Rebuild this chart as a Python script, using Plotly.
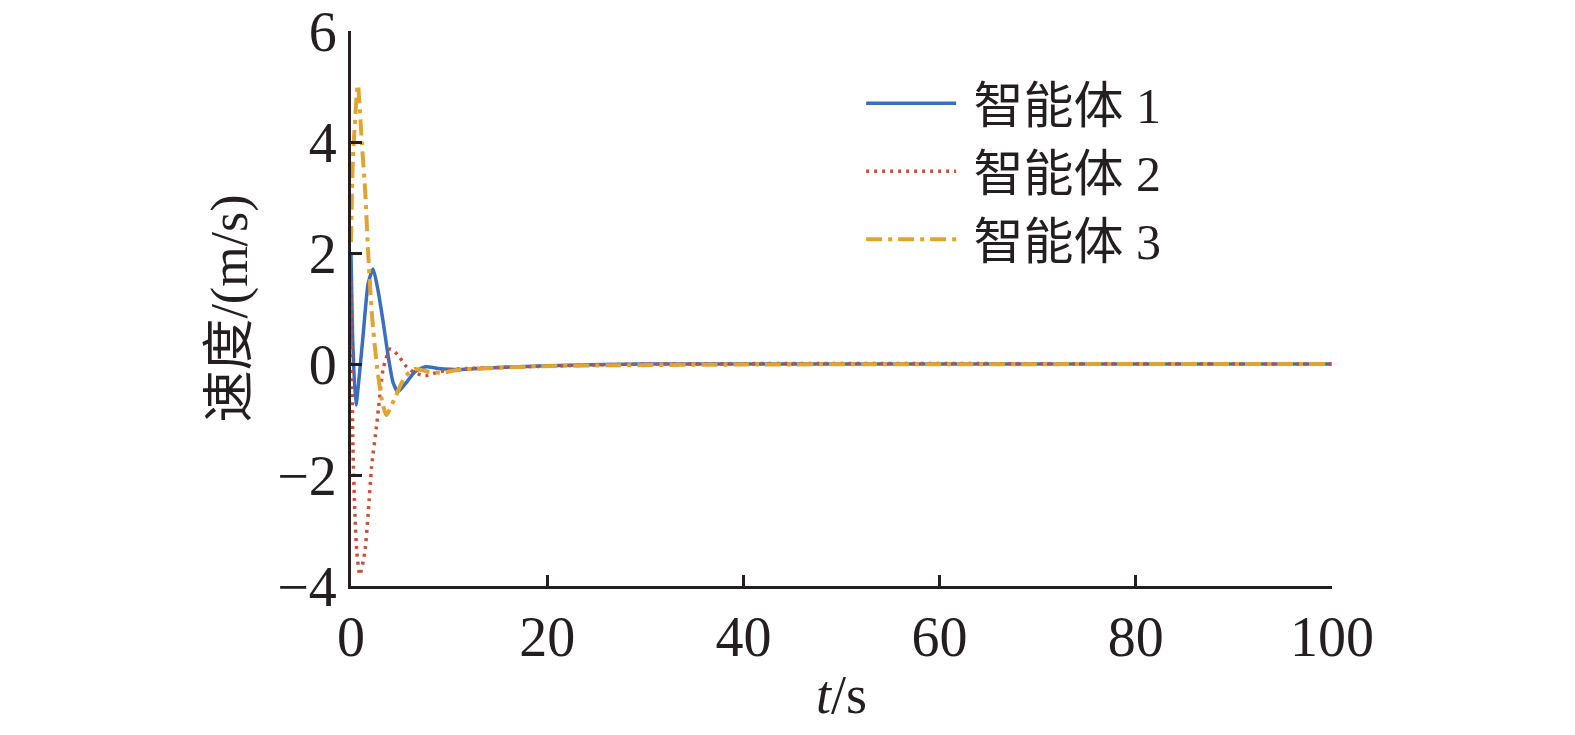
import plotly.graph_objects as go

# agent 1 (solid blue)
t1 = [0, 0.2, 0.5, 0.85, 1.25, 1.75, 2.25, 2.75, 3.3, 3.8, 4.3, 4.8, 5.7, 6.5, 7.6, 8.9, 11, 14, 20, 30, 100]
v1 = [2.0, 0.3, -0.74, -0.2, 0.55, 1.45, 1.71, 1.33, 0.73, 0.13, -0.34, -0.5, -0.32, -0.14, -0.05, -0.08, -0.1, -0.07, -0.03, 0, 0]

# agent 2 (dotted red)
t2 = [0, 0.2, 0.4, 0.6, 0.9, 1.4, 1.75, 2.1, 2.65, 3.3, 4.0, 4.8, 5.5, 6.5, 7.6, 8.6, 9.8, 12, 20, 30, 100]
v2 = [1.48, -1.5, -2.7, -3.4, -3.8, -3.4, -2.7, -1.85, -1.05, -0.07, 0.27, 0.16, -0.02, -0.16, -0.21, -0.16, -0.11, -0.08, -0.04, 0, 0]

# agent 3 (dash-dot yellow)
t3 = [0, 0.2, 0.7, 1.1, 1.45, 1.75, 2.15, 2.65, 3.15, 3.6, 4.5, 5.5, 6.5, 7.9, 9.3, 10.8, 19.3, 40, 100]
v3 = [2.2, 3.7, 5.03, 4.0, 3.1, 2.0, 0.85, -0.05, -0.65, -0.92, -0.6, -0.23, -0.09, -0.14, -0.16, -0.11, -0.04, -0.01, 0]

labels = ['\u00a0智能体 1', '\u00a0智能体 2', '\u00a0智能体 3']

FONT = 'Liberation Serif, Times New Roman, Noto Sans CJK SC, serif'
INK = '#231f20'

fig = go.Figure()
fig.add_trace(go.Scatter(x=t1, y=v1, name=labels[0], mode='lines',
                         line=dict(color='rgb(58,110,190)', width=3.5, shape='spline', smoothing=0.6)))
fig.add_trace(go.Scatter(x=t2, y=v2, name=labels[1], mode='lines',
                         line=dict(color='rgb(200,80,55)', width=3.5, dash='3px,5px', shape='spline', smoothing=0.6)))
fig.add_trace(go.Scatter(x=t3, y=v3, name=labels[2], mode='lines',
                         line=dict(color='rgb(224,165,48)', width=4, dash='16px,6px,4px,6px', shape='spline', smoothing=0.6)))

axis_common = dict(showline=True, linecolor=INK, linewidth=3, ticks='inside',
                   ticklen=11, tickwidth=3, tickcolor=INK, showgrid=False, zeroline=False,
                   automargin=False, ticklabeloverflow='allow',
                   tickfont=dict(family=FONT, size=56, color=INK))

fig.update_xaxes(range=[0, 100], tickvals=[0, 20, 40, 60, 80, 100],
                 title=dict(text='<i>t</i>/s', font=dict(family=FONT, size=54, color=INK), standoff=8),
                 **axis_common)
fig.update_yaxes(range=[-4, 6], tickvals=[-4, -2, 0, 2, 4, 6],
                 title=dict(text='速度/(m/s)', font=dict(family=FONT, size=52, color=INK), standoff=14),
                 **axis_common)

# page body has an 8px default margin, so the figure is a bit smaller and shifted
fig.update_layout(
    width=1559, height=719,
    margin=dict(l=343, r=235, t=23, b=141),
    paper_bgcolor='white', plot_bgcolor='white',
    font=dict(family=FONT, color=INK),
    showlegend=True,
    legend=dict(x=0.52, y=0.94, xanchor='left', yanchor='top', bgcolor='rgba(0,0,0,0)',
                font=dict(family=FONT, size=50, color=INK), itemwidth=90, tracegroupgap=0),
)

fig.write_html('out.html')
